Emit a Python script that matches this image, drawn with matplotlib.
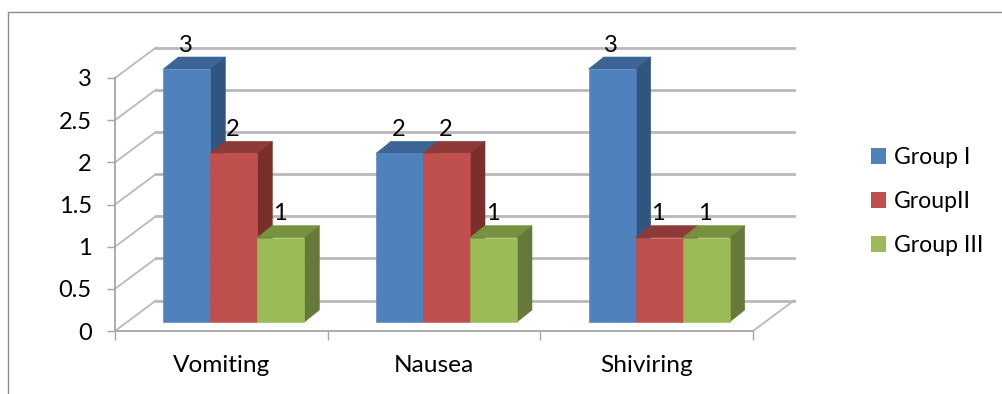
import matplotlib
matplotlib.use("Agg")
import matplotlib.pyplot as plt
import numpy as np
from matplotlib.lines import Line2D
from matplotlib.patches import Polygon, Patch
from matplotlib.transforms import IdentityTransform

categories = ["Vomiting", "Nausea", "Shiviring"]
series_names = ["Group I", "GroupII", "Group III"]
group_1 = [3, 2, 3]
group_2 = [2, 2, 1]
group_3 = [1, 1, 1]
y_ticks = [0, 0.5, 1, 1.5, 2, 2.5, 3]
y_labels = ["0", "0.5", "1", "1.5", "2", "2.5", "3"]

front_colors = ["#4F81BD", "#C0504D", "#9BBB59"]
top_colors = ["#3C6595", "#8E3A38", "#76923F"]
side_colors = ["#32557F", "#7B2F2D", "#67793A"]
GRID = "#B9B9B9"
AXIS = "#A6A6A6"
TEXT = "#000000"

W, H = 1002, 394
plt.rcParams["font.family"] = ["Lato", "DejaVu Sans"]
FS = 17
FS_CAT = 17.6
FS_LEG = 16.6

fig = plt.figure(figsize=(W / 100, H / 100), dpi=100)
fig.patch.set_facecolor("white")
ax = fig.add_axes([115 / W, 1 - 331 / H, 638 / W, 253 / H])
ax.set_xlim(0, 3)
ax.set_ylim(0, 3)
ax.patch.set_visible(False)
for name in ("top", "right"):
    ax.spines[name].set_visible(False)
for name in ("left", "bottom"):
    ax.spines[name].set_color(AXIS)
    ax.spines[name].set_linewidth(1.3)
    ax.spines[name].set_zorder(1)

ID = IdentityTransform()


def project(x, y, dx=0, dy=0):
    """Data point to display pixels, shifted along the chart's depth axis."""
    px, py = ax.transData.transform((x, y))
    return px + dx, py + dy


# Wall and floor of the 3-D box
WALL_DX, WALL_DY = 41, 30.5
for v in y_ticks:
    a = project(0, v)
    b = project(0, v, WALL_DX, WALL_DY)
    c = project(3, v, WALL_DX, WALL_DY)
    ax.add_line(Line2D([a[0], b[0]], [a[1], b[1]], transform=ID, color=GRID,
                       lw=1.3, zorder=1, clip_on=False))
    ax.add_line(Line2D([b[0], c[0]], [b[1], c[1]], transform=ID, color=GRID,
                       lw=2.0, zorder=1, clip_on=False))
a = project(3, 0)
b = project(3, 0, WALL_DX, WALL_DY)
ax.add_line(Line2D([a[0], b[0]], [a[1], b[1]], transform=ID, color=GRID,
                   lw=1.3, zorder=1, clip_on=False))

# Bars: front face, then top and side, left to right
BAR_W = 47 / (638 / 3)
PLANE_DX, PLANE_DY = 12.5, 9
DEPTH_DX, DEPTH_DY = 15, 12
series = [group_1, group_2, group_3]
centers = np.arange(len(categories)) + 0.5

for ci, center in enumerate(centers):
    for si, values in enumerate(series):
        v = values[ci]
        x0 = center + (si - 1.5) * BAR_W
        x1 = x0 + BAR_W
        fx, fy = PLANE_DX, PLANE_DY
        bx, by = PLANE_DX + DEPTH_DX, PLANE_DY + DEPTH_DY
        faces = [
            ([project(x0, v, fx, fy), project(x1, v, fx, fy),
              project(x1, v, bx, by), project(x0, v, bx, by)], top_colors[si]),
            ([project(x1, 0, fx, fy), project(x1, v, fx, fy),
              project(x1, v, bx, by), project(x1, 0, bx, by)], side_colors[si]),
            ([project(x0, 0, fx, fy), project(x1, 0, fx, fy),
              project(x1, v, fx, fy), project(x0, v, fx, fy)], front_colors[si]),
        ]
        for pts, col in faces:
            ax.add_patch(Polygon(pts, closed=True, transform=ID, facecolor=col,
                                 edgecolor=col, lw=0.4, zorder=3 + ci + si * 0.1,
                                 clip_on=False))
        lx, ly = project((x0 + x1) / 2, v, fx - 1, fy + 24)
        ax.text(lx, ly, str(v), transform=ID, ha="center", va="center",
                fontsize=FS, color=TEXT, zorder=10)

# Axis ticks and labels
ax.set_yticks(y_ticks, y_labels)
ax.tick_params(axis="y", length=5.8, width=1.0, color=AXIS, pad=11,
               labelsize=FS, labelcolor=TEXT)
ax.set_xticks(centers, categories)
ax.tick_params(axis="x", which="major", length=0, pad=17, labelsize=FS_CAT,
               labelcolor=TEXT)
for label, shift in zip(ax.get_xticklabels(), (-2.5, 0, -3)):
    label.set_x(label.get_position()[0] + shift / (638 / 3))
ax.set_xticks(np.arange(len(categories) + 1), minor=True)
ax.tick_params(axis="x", which="minor", length=6.5, width=1.0, color=AXIS)

# Legend
handles = [Patch(facecolor=c, edgecolor="none") for c in front_colors]
fig.legend(handles, series_names, loc="upper left",
           bbox_to_anchor=(871 / W, 1 - 147 / H), bbox_transform=fig.transFigure,
           frameon=False, fontsize=FS_LEG, borderpad=0, borderaxespad=0,
           handlelength=0.65, handleheight=0.65, handletextpad=0.33,
           labelspacing=1.0)

# Chart frame, cropped on the right and bottom
fig.add_artist(Line2D([7.5 / W, 7.5 / W, 1], [0, 1 - 11.5 / H, 1 - 11.5 / H],
                      transform=fig.transFigure, color="#8C8C8C", lw=1.0))

fig.savefig("out.png", dpi=100)
